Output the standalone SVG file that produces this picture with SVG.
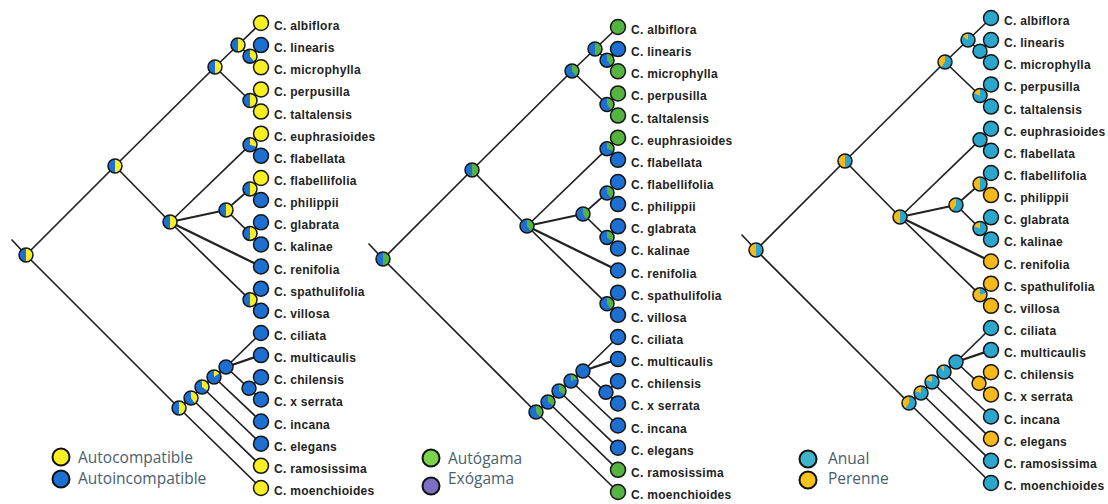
<svg xmlns="http://www.w3.org/2000/svg" xmlns:xlink="http://www.w3.org/1999/xlink" width="1108" height="504" viewBox="0 0 1108 504">
<style>
.e{stroke:#222;stroke-width:1.7;fill:none;stroke-linecap:round}
.th{stroke-width:2.3}
.o{fill:none;stroke:#151515;stroke-width:1.5}
.lf{stroke:#151515;stroke-width:1.5}
.cy{fill:#f8ef22}.cb{fill:#1d6fd1}.cg{fill:#55b341}.ct{fill:#2ba6cc}.co{fill:#f7b81a}
.lab{font-family:"Liberation Sans",Arial,sans-serif;font-weight:bold;font-size:12px;letter-spacing:0.3px;fill:#222}
.leg{font-family:"Open Sans","Liberation Sans",sans-serif;font-size:15.5px;fill:#4a606b}
.lc{stroke:#111;stroke-width:2}
</style>
<defs>
<path id="w50" d="M0,0V-7A7,7 0 0 1 0,7Z"/>
<path id="w40" d="M0,0V-7A7,7 0 0 1 4.11,5.66Z"/>
<path id="w35" d="M0,0V-7A7,7 0 0 1 5.66,4.11Z"/>
<path id="w30" d="M0,0V-7A7,7 0 0 1 6.66,2.16Z"/>
<path id="w20" d="M0,0V-7A7,7 0 0 1 6.66,-2.16Z"/>
<path id="w15" d="M0,0V-7A7,7 0 0 1 5.66,-4.11Z"/>
<path id="w60" d="M0,0V-7A7,7 0 1 1 -4.11,5.66Z"/>
<path id="w80" d="M0,0V-7A7,7 0 1 1 -6.66,-2.16Z"/>
<path id="w85" d="M0,0V-7A7,7 0 1 1 -5.66,-4.11Z"/>
<path id="w90" d="M0,0V-7A7,7 0 1 1 -4.11,-5.66Z"/>
</defs>
<rect width="1108" height="504" fill="#fff"/>

<!-- PANEL 1 -->
<g id="panel1">
<g id="p1-connectors">
<line class="e" x1="12" y1="240" x2="26" y2="255"/>
<line class="e" x1="26" y1="255" x2="115" y2="166"/>
<line class="e" x1="26" y1="255" x2="179" y2="408"/>
<line class="e" x1="115" y1="166" x2="215" y2="67"/>
<line class="e" x1="115" y1="166" x2="170" y2="222"/>
<line class="e" x1="215" y1="67" x2="238" y2="45"/>
<line class="e" x1="215" y1="67" x2="250" y2="100.5"/>
<line class="e" x1="238" y1="45" x2="261" y2="23"/>
<line class="e" x1="238" y1="45" x2="250" y2="56.2"/>
<line class="e" x1="250" y1="56.2" x2="261" y2="45.1"/>
<line class="e" x1="250" y1="56.2" x2="261" y2="67.3"/>
<line class="e" x1="250" y1="100.5" x2="261" y2="89.4"/>
<line class="e" x1="250" y1="100.5" x2="261" y2="111.6"/>
<line class="e" x1="170" y1="222" x2="250" y2="144.8"/>
<line class="e th" x1="170" y1="222" x2="226" y2="210"/>
<line class="e th" x1="170" y1="222" x2="261" y2="266.5"/>
<line class="e" x1="170" y1="222" x2="250" y2="299.8"/>
<line class="e" x1="250" y1="144.8" x2="261" y2="133.7"/>
<line class="e" x1="250" y1="144.8" x2="261" y2="155.8"/>
<line class="e" x1="226" y1="210" x2="250" y2="189"/>
<line class="e" x1="226" y1="210" x2="250" y2="233.4"/>
<line class="e" x1="250" y1="189" x2="261" y2="178"/>
<line class="e" x1="250" y1="189" x2="261" y2="200.1"/>
<line class="e" x1="250" y1="233.4" x2="261" y2="222.3"/>
<line class="e" x1="250" y1="233.4" x2="261" y2="244.4"/>
<line class="e" x1="250" y1="299.8" x2="261" y2="288.7"/>
<line class="e" x1="250" y1="299.8" x2="261" y2="310.8"/>
<line class="e" x1="179" y1="408" x2="191" y2="398"/>
<line class="e" x1="179" y1="408" x2="261" y2="488"/>
<line class="e" x1="191" y1="398" x2="202" y2="387"/>
<line class="e" x1="191" y1="398" x2="261" y2="465.8"/>
<line class="e" x1="202" y1="387" x2="214" y2="377"/>
<line class="e" x1="202" y1="387" x2="261" y2="443.7"/>
<line class="e" x1="214" y1="377" x2="226" y2="367"/>
<line class="e" x1="214" y1="377" x2="261" y2="421.5"/>
<line class="e" x1="226" y1="367" x2="261" y2="333"/>
<line class="e th" x1="226" y1="367" x2="261" y2="355.1"/>
<line class="e" x1="226" y1="367" x2="249" y2="388.3"/>
<line class="e" x1="249" y1="388.3" x2="261" y2="377.2"/>
<line class="e" x1="249" y1="388.3" x2="261" y2="399.4"/>
</g>
<g id="p1-nodes">
<g id="p1-root" transform="translate(26,255)"><circle r="7" class="cb"/><use href="#w50" class="cy"/><circle r="7" class="o"/></g>
<g id="p1-A" transform="translate(115,166)"><circle r="7" class="cb"/><use href="#w50" class="cy"/><circle r="7" class="o"/></g>
<g id="p1-B" transform="translate(215,67)"><circle r="7" class="cb"/><use href="#w50" class="cy"/><circle r="7" class="o"/></g>
<g id="p1-C" transform="translate(238,45)"><circle r="7" class="cb"/><use href="#w50" class="cy"/><circle r="7" class="o"/></g>
<g id="p1-D" transform="translate(250,56.2)"><circle r="7" class="cb"/><use href="#w40" class="cy"/><circle r="7" class="o"/></g>
<g id="p1-E" transform="translate(250,100.5)"><circle r="7" class="cb"/><use href="#w50" class="cy"/><circle r="7" class="o"/></g>
<g id="p1-F" transform="translate(170,222)"><circle r="7" class="cb"/><use href="#w50" class="cy"/><circle r="7" class="o"/></g>
<g id="p1-G" transform="translate(250,144.8)"><circle r="7" class="cb"/><use href="#w30" class="cy"/><circle r="7" class="o"/></g>
<g id="p1-H" transform="translate(226,210)"><circle r="7" class="cb"/><use href="#w50" class="cy"/><circle r="7" class="o"/></g>
<g id="p1-I" transform="translate(250,189)"><circle r="7" class="cb"/><use href="#w50" class="cy"/><circle r="7" class="o"/></g>
<g id="p1-J" transform="translate(250,233.4)"><circle r="7" class="cb"/><use href="#w50" class="cy"/><circle r="7" class="o"/></g>
<g id="p1-K" transform="translate(250,299.8)"><circle r="7" class="cb"/><use href="#w50" class="cy"/><circle r="7" class="o"/></g>
<g id="p1-L" transform="translate(179,408)"><circle r="7" class="cb"/><use href="#w50" class="cy"/><circle r="7" class="o"/></g>
<g id="p1-M" transform="translate(191,398)"><circle r="7" class="cb"/><use href="#w40" class="cy"/><circle r="7" class="o"/></g>
<g id="p1-N" transform="translate(202,387)"><circle r="7" class="cb"/><use href="#w35" class="cy"/><circle r="7" class="o"/></g>
<g id="p1-O" transform="translate(214,377)"><circle r="7" class="cb"/><use href="#w15" class="cy"/><circle r="7" class="o"/></g>
<g id="p1-P" transform="translate(226,367)"><circle r="7" class="cb"/><circle r="7" class="o"/></g>
<g id="p1-Q" transform="translate(249,388.3)"><circle r="7" class="cb"/><circle r="7" class="o"/></g>
<g id="p1-albiflora"><circle class="lf cy" cx="261" cy="23" r="7.5"/><text class="lab" x="274" y="30">C. albiflora</text></g>
<g id="p1-linearis"><circle class="lf cb" cx="261" cy="45.1" r="7.5"/><text class="lab" x="274" y="52.1">C. linearis</text></g>
<g id="p1-microphylla"><circle class="lf cy" cx="261" cy="67.3" r="7.5"/><text class="lab" x="274" y="74.3">C. microphylla</text></g>
<g id="p1-perpusilla"><circle class="lf cy" cx="261" cy="89.4" r="7.5"/><text class="lab" x="274" y="96.4">C. perpusilla</text></g>
<g id="p1-taltalensis"><circle class="lf cy" cx="261" cy="111.6" r="7.5"/><text class="lab" x="274" y="118.6">C. taltalensis</text></g>
<g id="p1-euphrasioides"><circle class="lf cy" cx="261" cy="133.7" r="7.5"/><text class="lab" x="274" y="140.7">C. euphrasioides</text></g>
<g id="p1-flabellata"><circle class="lf cb" cx="261" cy="155.8" r="7.5"/><text class="lab" x="274" y="162.8">C. flabellata</text></g>
<g id="p1-flabellifolia"><circle class="lf cy" cx="261" cy="178" r="7.5"/><text class="lab" x="274" y="185">C. flabellifolia</text></g>
<g id="p1-philippii"><circle class="lf cb" cx="261" cy="200.1" r="7.5"/><text class="lab" x="274" y="207.1">C. philippii</text></g>
<g id="p1-glabrata"><circle class="lf cb" cx="261" cy="222.3" r="7.5"/><text class="lab" x="274" y="229.3">C. glabrata</text></g>
<g id="p1-kalinae"><circle class="lf cb" cx="261" cy="244.4" r="7.5"/><text class="lab" x="274" y="251.4">C. kalinae</text></g>
<g id="p1-renifolia"><circle class="lf cb" cx="261" cy="266.5" r="7.5"/><text class="lab" x="274" y="273.5">C. renifolia</text></g>
<g id="p1-spathulifolia"><circle class="lf cb" cx="261" cy="288.7" r="7.5"/><text class="lab" x="274" y="295.7">C. spathulifolia</text></g>
<g id="p1-villosa"><circle class="lf cb" cx="261" cy="310.8" r="7.5"/><text class="lab" x="274" y="317.8">C. villosa</text></g>
<g id="p1-ciliata"><circle class="lf cb" cx="261" cy="333" r="7.5"/><text class="lab" x="274" y="340">C. ciliata</text></g>
<g id="p1-multicaulis"><circle class="lf cb" cx="261" cy="355.1" r="7.5"/><text class="lab" x="274" y="362.1">C. multicaulis</text></g>
<g id="p1-chilensis"><circle class="lf cb" cx="261" cy="377.2" r="7.5"/><text class="lab" x="274" y="384.2">C. chilensis</text></g>
<g id="p1-xserrata"><circle class="lf cb" cx="261" cy="399.4" r="7.5"/><text class="lab" x="274" y="406.4">C. x serrata</text></g>
<g id="p1-incana"><circle class="lf cb" cx="261" cy="421.5" r="7.5"/><text class="lab" x="274" y="428.5">C. incana</text></g>
<g id="p1-elegans"><circle class="lf cb" cx="261" cy="443.7" r="7.5"/><text class="lab" x="274" y="450.7">C. elegans</text></g>
<g id="p1-ramosissima"><circle class="lf cy" cx="261" cy="465.8" r="7.5"/><text class="lab" x="274" y="472.8">C. ramosissima</text></g>
<g id="p1-moenchioides"><circle class="lf cy" cx="261" cy="488" r="7.5"/><text class="lab" x="274" y="495">C. moenchioides</text></g>
</g>
</g>

<!-- PANEL 2 -->
<g id="panel2" transform="translate(357,4)">
<g id="p2-connectors">
<line class="e" x1="12" y1="240" x2="26" y2="255"/>
<line class="e" x1="26" y1="255" x2="115" y2="166"/>
<line class="e" x1="26" y1="255" x2="179" y2="408"/>
<line class="e" x1="115" y1="166" x2="215" y2="67"/>
<line class="e" x1="115" y1="166" x2="170" y2="222"/>
<line class="e" x1="215" y1="67" x2="238" y2="45"/>
<line class="e" x1="215" y1="67" x2="250" y2="100.5"/>
<line class="e" x1="238" y1="45" x2="261" y2="23"/>
<line class="e" x1="238" y1="45" x2="250" y2="56.2"/>
<line class="e" x1="250" y1="56.2" x2="261" y2="45.1"/>
<line class="e" x1="250" y1="56.2" x2="261" y2="67.3"/>
<line class="e" x1="250" y1="100.5" x2="261" y2="89.4"/>
<line class="e" x1="250" y1="100.5" x2="261" y2="111.6"/>
<line class="e" x1="170" y1="222" x2="250" y2="144.8"/>
<line class="e th" x1="170" y1="222" x2="226" y2="210"/>
<line class="e th" x1="170" y1="222" x2="261" y2="266.5"/>
<line class="e" x1="170" y1="222" x2="250" y2="299.8"/>
<line class="e" x1="250" y1="144.8" x2="261" y2="133.7"/>
<line class="e" x1="250" y1="144.8" x2="261" y2="155.8"/>
<line class="e" x1="226" y1="210" x2="250" y2="189"/>
<line class="e" x1="226" y1="210" x2="250" y2="233.4"/>
<line class="e" x1="250" y1="189" x2="261" y2="178"/>
<line class="e" x1="250" y1="189" x2="261" y2="200.1"/>
<line class="e" x1="250" y1="233.4" x2="261" y2="222.3"/>
<line class="e" x1="250" y1="233.4" x2="261" y2="244.4"/>
<line class="e" x1="250" y1="299.8" x2="261" y2="288.7"/>
<line class="e" x1="250" y1="299.8" x2="261" y2="310.8"/>
<line class="e" x1="179" y1="408" x2="191" y2="398"/>
<line class="e" x1="179" y1="408" x2="261" y2="488"/>
<line class="e" x1="191" y1="398" x2="202" y2="387"/>
<line class="e" x1="191" y1="398" x2="261" y2="465.8"/>
<line class="e" x1="202" y1="387" x2="214" y2="377"/>
<line class="e" x1="202" y1="387" x2="261" y2="443.7"/>
<line class="e" x1="214" y1="377" x2="226" y2="367"/>
<line class="e" x1="214" y1="377" x2="261" y2="421.5"/>
<line class="e" x1="226" y1="367" x2="261" y2="333"/>
<line class="e th" x1="226" y1="367" x2="261" y2="355.1"/>
<line class="e" x1="226" y1="367" x2="249" y2="388.3"/>
<line class="e" x1="249" y1="388.3" x2="261" y2="377.2"/>
<line class="e" x1="249" y1="388.3" x2="261" y2="399.4"/>
</g>
<g id="p2-nodes">
<g id="p2-root" transform="translate(26,255)"><circle r="7" class="cb"/><use href="#w50" class="cg"/><circle r="7" class="o"/></g>
<g id="p2-A" transform="translate(115,166)"><circle r="7" class="cb"/><use href="#w50" class="cg"/><circle r="7" class="o"/></g>
<g id="p2-B" transform="translate(215,67)"><circle r="7" class="cb"/><use href="#w40" class="cg"/><circle r="7" class="o"/></g>
<g id="p2-C" transform="translate(238,45)"><circle r="7" class="cb"/><use href="#w50" class="cg"/><circle r="7" class="o"/></g>
<g id="p2-D" transform="translate(250,56.2)"><circle r="7" class="cb"/><use href="#w40" class="cg"/><circle r="7" class="o"/></g>
<g id="p2-E" transform="translate(250,100.5)"><circle r="7" class="cb"/><use href="#w40" class="cg"/><circle r="7" class="o"/></g>
<g id="p2-F" transform="translate(170,222)"><circle r="7" class="cb"/><use href="#w40" class="cg"/><circle r="7" class="o"/></g>
<g id="p2-G" transform="translate(250,144.8)"><circle r="7" class="cb"/><use href="#w30" class="cg"/><circle r="7" class="o"/></g>
<g id="p2-H" transform="translate(226,210)"><circle r="7" class="cb"/><use href="#w40" class="cg"/><circle r="7" class="o"/></g>
<g id="p2-I" transform="translate(250,189)"><circle r="7" class="cb"/><use href="#w40" class="cg"/><circle r="7" class="o"/></g>
<g id="p2-J" transform="translate(250,233.4)"><circle r="7" class="cb"/><use href="#w35" class="cg"/><circle r="7" class="o"/></g>
<g id="p2-K" transform="translate(250,299.8)"><circle r="7" class="cb"/><use href="#w40" class="cg"/><circle r="7" class="o"/></g>
<g id="p2-L" transform="translate(179,408)"><circle r="7" class="cb"/><use href="#w40" class="cg"/><circle r="7" class="o"/></g>
<g id="p2-M" transform="translate(191,398)"><circle r="7" class="cb"/><use href="#w35" class="cg"/><circle r="7" class="o"/></g>
<g id="p2-N" transform="translate(202,387)"><circle r="7" class="cb"/><use href="#w35" class="cg"/><circle r="7" class="o"/></g>
<g id="p2-O" transform="translate(214,377)"><circle r="7" class="cb"/><use href="#w20" class="cg"/><circle r="7" class="o"/></g>
<g id="p2-P" transform="translate(226,367)"><circle r="7" class="cb"/><circle r="7" class="o"/></g>
<g id="p2-Q" transform="translate(249,388.3)"><circle r="7" class="cb"/><circle r="7" class="o"/></g>
<g id="p2-albiflora"><circle class="lf cg" cx="261" cy="23" r="7.5"/><text class="lab" x="274" y="30">C. albiflora</text></g>
<g id="p2-linearis"><circle class="lf cb" cx="261" cy="45.1" r="7.5"/><text class="lab" x="274" y="52.1">C. linearis</text></g>
<g id="p2-microphylla"><circle class="lf cg" cx="261" cy="67.3" r="7.5"/><text class="lab" x="274" y="74.3">C. microphylla</text></g>
<g id="p2-perpusilla"><circle class="lf cg" cx="261" cy="89.4" r="7.5"/><text class="lab" x="274" y="96.4">C. perpusilla</text></g>
<g id="p2-taltalensis"><circle class="lf cg" cx="261" cy="111.6" r="7.5"/><text class="lab" x="274" y="118.6">C. taltalensis</text></g>
<g id="p2-euphrasioides"><circle class="lf cg" cx="261" cy="133.7" r="7.5"/><text class="lab" x="274" y="140.7">C. euphrasioides</text></g>
<g id="p2-flabellata"><circle class="lf cb" cx="261" cy="155.8" r="7.5"/><text class="lab" x="274" y="162.8">C. flabellata</text></g>
<g id="p2-flabellifolia"><circle class="lf cb" cx="261" cy="178" r="7.5"/><text class="lab" x="274" y="185">C. flabellifolia</text></g>
<g id="p2-philippii"><circle class="lf cb" cx="261" cy="200.1" r="7.5"/><text class="lab" x="274" y="207.1">C. philippii</text></g>
<g id="p2-glabrata"><circle class="lf cb" cx="261" cy="222.3" r="7.5"/><text class="lab" x="274" y="229.3">C. glabrata</text></g>
<g id="p2-kalinae"><circle class="lf cb" cx="261" cy="244.4" r="7.5"/><text class="lab" x="274" y="251.4">C. kalinae</text></g>
<g id="p2-renifolia"><circle class="lf cb" cx="261" cy="266.5" r="7.5"/><text class="lab" x="274" y="273.5">C. renifolia</text></g>
<g id="p2-spathulifolia"><circle class="lf cb" cx="261" cy="288.7" r="7.5"/><text class="lab" x="274" y="295.7">C. spathulifolia</text></g>
<g id="p2-villosa"><circle class="lf cb" cx="261" cy="310.8" r="7.5"/><text class="lab" x="274" y="317.8">C. villosa</text></g>
<g id="p2-ciliata"><circle class="lf cb" cx="261" cy="333" r="7.5"/><text class="lab" x="274" y="340">C. ciliata</text></g>
<g id="p2-multicaulis"><circle class="lf cb" cx="261" cy="355.1" r="7.5"/><text class="lab" x="274" y="362.1">C. multicaulis</text></g>
<g id="p2-chilensis"><circle class="lf cb" cx="261" cy="377.2" r="7.5"/><text class="lab" x="274" y="384.2">C. chilensis</text></g>
<g id="p2-xserrata"><circle class="lf cb" cx="261" cy="399.4" r="7.5"/><text class="lab" x="274" y="406.4">C. x serrata</text></g>
<g id="p2-incana"><circle class="lf cb" cx="261" cy="421.5" r="7.5"/><text class="lab" x="274" y="428.5">C. incana</text></g>
<g id="p2-elegans"><circle class="lf cb" cx="261" cy="443.7" r="7.5"/><text class="lab" x="274" y="450.7">C. elegans</text></g>
<g id="p2-ramosissima"><circle class="lf cg" cx="261" cy="465.8" r="7.5"/><text class="lab" x="274" y="472.8">C. ramosissima</text></g>
<g id="p2-moenchioides"><circle class="lf cg" cx="261" cy="488" r="7.5"/><text class="lab" x="274" y="495">C. moenchioides</text></g>
</g>
</g>

<!-- PANEL 3 -->
<g id="panel3" transform="translate(730,-5)">
<g id="p3-connectors">
<line class="e" x1="12" y1="240" x2="26" y2="255"/>
<line class="e" x1="26" y1="255" x2="115" y2="166"/>
<line class="e" x1="26" y1="255" x2="179" y2="408"/>
<line class="e" x1="115" y1="166" x2="215" y2="67"/>
<line class="e" x1="115" y1="166" x2="170" y2="222"/>
<line class="e" x1="215" y1="67" x2="238" y2="45"/>
<line class="e" x1="215" y1="67" x2="250" y2="100.5"/>
<line class="e" x1="238" y1="45" x2="261" y2="23"/>
<line class="e" x1="238" y1="45" x2="250" y2="56.2"/>
<line class="e" x1="250" y1="56.2" x2="261" y2="45.1"/>
<line class="e" x1="250" y1="56.2" x2="261" y2="67.3"/>
<line class="e" x1="250" y1="100.5" x2="261" y2="89.4"/>
<line class="e" x1="250" y1="100.5" x2="261" y2="111.6"/>
<line class="e" x1="170" y1="222" x2="250" y2="144.8"/>
<line class="e th" x1="170" y1="222" x2="226" y2="210"/>
<line class="e th" x1="170" y1="222" x2="261" y2="266.5"/>
<line class="e" x1="170" y1="222" x2="250" y2="299.8"/>
<line class="e" x1="250" y1="144.8" x2="261" y2="133.7"/>
<line class="e" x1="250" y1="144.8" x2="261" y2="155.8"/>
<line class="e" x1="226" y1="210" x2="250" y2="189"/>
<line class="e" x1="226" y1="210" x2="250" y2="233.4"/>
<line class="e" x1="250" y1="189" x2="261" y2="178"/>
<line class="e" x1="250" y1="189" x2="261" y2="200.1"/>
<line class="e" x1="250" y1="233.4" x2="261" y2="222.3"/>
<line class="e" x1="250" y1="233.4" x2="261" y2="244.4"/>
<line class="e" x1="250" y1="299.8" x2="261" y2="288.7"/>
<line class="e" x1="250" y1="299.8" x2="261" y2="310.8"/>
<line class="e" x1="179" y1="408" x2="191" y2="398"/>
<line class="e" x1="179" y1="408" x2="261" y2="488"/>
<line class="e" x1="191" y1="398" x2="202" y2="387"/>
<line class="e" x1="191" y1="398" x2="261" y2="465.8"/>
<line class="e" x1="202" y1="387" x2="214" y2="377"/>
<line class="e" x1="202" y1="387" x2="261" y2="443.7"/>
<line class="e" x1="214" y1="377" x2="226" y2="367"/>
<line class="e" x1="214" y1="377" x2="261" y2="421.5"/>
<line class="e" x1="226" y1="367" x2="261" y2="333"/>
<line class="e th" x1="226" y1="367" x2="261" y2="355.1"/>
<line class="e" x1="226" y1="367" x2="249" y2="388.3"/>
<line class="e" x1="249" y1="388.3" x2="261" y2="377.2"/>
<line class="e" x1="249" y1="388.3" x2="261" y2="399.4"/>
</g>
<g id="p3-nodes">
<g id="p3-root" transform="translate(26,255)"><circle r="7" class="co"/><use href="#w50" class="ct"/><circle r="7" class="o"/></g>
<g id="p3-A" transform="translate(115,166)"><circle r="7" class="co"/><use href="#w50" class="ct"/><circle r="7" class="o"/></g>
<g id="p3-B" transform="translate(215,67)"><circle r="7" class="co"/><use href="#w60" class="ct"/><circle r="7" class="o"/></g>
<g id="p3-C" transform="translate(238,45)"><circle r="7" class="co"/><use href="#w85" class="ct"/><circle r="7" class="o"/></g>
<g id="p3-D" transform="translate(250,56.2)"><circle r="7" class="ct"/><circle r="7" class="o"/></g>
<g id="p3-E" transform="translate(250,100.5)"><circle r="7" class="co"/><use href="#w80" class="ct"/><circle r="7" class="o"/></g>
<g id="p3-F" transform="translate(170,222)"><circle r="7" class="co"/><use href="#w50" class="ct"/><circle r="7" class="o"/></g>
<g id="p3-G" transform="translate(250,144.8)"><circle r="7" class="ct"/><circle r="7" class="o"/></g>
<g id="p3-H" transform="translate(226,210)"><circle r="7" class="co"/><use href="#w60" class="ct"/><circle r="7" class="o"/></g>
<g id="p3-I" transform="translate(250,189)"><circle r="7" class="co"/><use href="#w50" class="ct"/><circle r="7" class="o"/></g>
<g id="p3-J" transform="translate(250,233.4)"><circle r="7" class="co"/><use href="#w80" class="ct"/><circle r="7" class="o"/></g>
<g id="p3-K" transform="translate(250,299.8)"><circle r="7" class="co"/><use href="#w20" class="ct"/><circle r="7" class="o"/></g>
<g id="p3-L" transform="translate(179,408)"><circle r="7" class="co"/><use href="#w60" class="ct"/><circle r="7" class="o"/></g>
<g id="p3-M" transform="translate(191,398)"><circle r="7" class="co"/><use href="#w80" class="ct"/><circle r="7" class="o"/></g>
<g id="p3-N" transform="translate(202,387)"><circle r="7" class="co"/><use href="#w80" class="ct"/><circle r="7" class="o"/></g>
<g id="p3-O" transform="translate(214,377)"><circle r="7" class="co"/><use href="#w90" class="ct"/><circle r="7" class="o"/></g>
<g id="p3-P" transform="translate(226,367)"><circle r="7" class="ct"/><circle r="7" class="o"/></g>
<g id="p3-Q" transform="translate(249,388.3)"><circle r="7" class="co"/><circle r="7" class="o"/></g>
<g id="p3-albiflora"><circle class="lf ct" cx="261" cy="23" r="7.5"/><text class="lab" x="274" y="30">C. albiflora</text></g>
<g id="p3-linearis"><circle class="lf ct" cx="261" cy="45.1" r="7.5"/><text class="lab" x="274" y="52.1">C. linearis</text></g>
<g id="p3-microphylla"><circle class="lf ct" cx="261" cy="67.3" r="7.5"/><text class="lab" x="274" y="74.3">C. microphylla</text></g>
<g id="p3-perpusilla"><circle class="lf ct" cx="261" cy="89.4" r="7.5"/><text class="lab" x="274" y="96.4">C. perpusilla</text></g>
<g id="p3-taltalensis"><circle class="lf ct" cx="261" cy="111.6" r="7.5"/><text class="lab" x="274" y="118.6">C. taltalensis</text></g>
<g id="p3-euphrasioides"><circle class="lf ct" cx="261" cy="133.7" r="7.5"/><text class="lab" x="274" y="140.7">C. euphrasioides</text></g>
<g id="p3-flabellata"><circle class="lf ct" cx="261" cy="155.8" r="7.5"/><text class="lab" x="274" y="162.8">C. flabellata</text></g>
<g id="p3-flabellifolia"><circle class="lf ct" cx="261" cy="178" r="7.5"/><text class="lab" x="274" y="185">C. flabellifolia</text></g>
<g id="p3-philippii"><circle class="lf co" cx="261" cy="200.1" r="7.5"/><text class="lab" x="274" y="207.1">C. philippii</text></g>
<g id="p3-glabrata"><circle class="lf ct" cx="261" cy="222.3" r="7.5"/><text class="lab" x="274" y="229.3">C. glabrata</text></g>
<g id="p3-kalinae"><circle class="lf ct" cx="261" cy="244.4" r="7.5"/><text class="lab" x="274" y="251.4">C. kalinae</text></g>
<g id="p3-renifolia"><circle class="lf co" cx="261" cy="266.5" r="7.5"/><text class="lab" x="274" y="273.5">C. renifolia</text></g>
<g id="p3-spathulifolia"><circle class="lf co" cx="261" cy="288.7" r="7.5"/><text class="lab" x="274" y="295.7">C. spathulifolia</text></g>
<g id="p3-villosa"><circle class="lf co" cx="261" cy="310.8" r="7.5"/><text class="lab" x="274" y="317.8">C. villosa</text></g>
<g id="p3-ciliata"><circle class="lf ct" cx="261" cy="333" r="7.5"/><text class="lab" x="274" y="340">C. ciliata</text></g>
<g id="p3-multicaulis"><circle class="lf ct" cx="261" cy="355.1" r="7.5"/><text class="lab" x="274" y="362.1">C. multicaulis</text></g>
<g id="p3-chilensis"><circle class="lf co" cx="261" cy="377.2" r="7.5"/><text class="lab" x="274" y="384.2">C. chilensis</text></g>
<g id="p3-xserrata"><circle class="lf co" cx="261" cy="399.4" r="7.5"/><text class="lab" x="274" y="406.4">C. x serrata</text></g>
<g id="p3-incana"><circle class="lf ct" cx="261" cy="421.5" r="7.5"/><text class="lab" x="274" y="428.5">C. incana</text></g>
<g id="p3-elegans"><circle class="lf co" cx="261" cy="443.7" r="7.5"/><text class="lab" x="274" y="450.7">C. elegans</text></g>
<g id="p3-ramosissima"><circle class="lf ct" cx="261" cy="465.8" r="7.5"/><text class="lab" x="274" y="472.8">C. ramosissima</text></g>
<g id="p3-moenchioides"><circle class="lf ct" cx="261" cy="488" r="7.5"/><text class="lab" x="274" y="495">C. moenchioides</text></g>
</g>
</g>

<!-- LEGENDS -->
<g id="legend1">
<circle class="lc" cx="61" cy="457" r="8.5" fill="#f8ef22"/>
<circle class="lc" cx="61" cy="479" r="8.5" fill="#1d6fd1"/>
<text class="leg" x="78" y="462.5">Autocompatible</text>
<text class="leg" x="78" y="483.5">Autoincompatible</text>
</g>
<g id="legend2">
<circle class="lc" cx="431" cy="458" r="8.5" fill="#7cd24a"/>
<circle class="lc" cx="431" cy="486" r="8.5" fill="#7b6fc4"/>
<text class="leg" x="448" y="464">Autógama</text>
<text class="leg" x="448" y="484">Exógama</text>
</g>
<g id="legend3">
<circle class="lc" cx="808" cy="459" r="8.5" fill="#3fb3c9"/>
<circle class="lc" cx="808" cy="480" r="8.5" fill="#f7c21a"/>
<text class="leg" x="828" y="464">Anual</text>
<text class="leg" x="828" y="484">Perenne</text>
</g>
</svg>
